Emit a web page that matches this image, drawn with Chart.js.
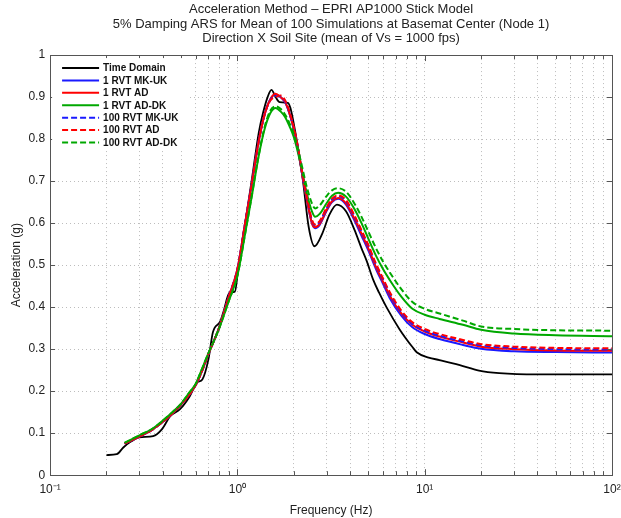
<!DOCTYPE html>
<html>
<head>
<meta charset="utf-8">
<script src="https://cdn.jsdelivr.net/npm/chart.js@4/dist/chart.umd.min.js"></script>
<style>
  html, body { margin: 0; padding: 0; background: #fff; }
  #wrap { width: 621px; height: 518px; }
</style>
</head>
<body>
<div id="wrap"><canvas id="ars" width="621" height="518"></canvas></div>
<script>
// time domain curve (black)
var freqTD = [0.2, 0.227, 0.246, 0.27, 0.3, 0.355, 0.395, 0.437, 0.494, 0.557, 0.61, 0.65, 0.7, 0.74, 0.81, 0.84, 0.91, 0.97, 1.01,
              1.1, 1.2, 1.3, 1.37, 1.45, 1.52, 1.6, 1.68, 1.86, 2.07, 2.24, 2.4, 2.58, 2.85, 3.1, 3.4, 3.8, 4.22, 4.6, 4.9,
              5.3, 5.7, 6.25, 7.35, 8.6, 9.1, 10.5, 12, 15.4, 19.5, 25, 40, 100];
var accTD = [0.048, 0.05, 0.066, 0.08, 0.09, 0.093, 0.109, 0.14, 0.157, 0.188, 0.221, 0.228, 0.275, 0.34, 0.366, 0.387, 0.435, 0.437, 0.49,
             0.6, 0.71, 0.815, 0.862, 0.9, 0.917, 0.9, 0.888, 0.886, 0.8, 0.7, 0.592, 0.545, 0.577, 0.62, 0.644, 0.628, 0.584, 0.54, 0.51,
             0.466, 0.435, 0.4, 0.347, 0.305, 0.292, 0.28, 0.274, 0.262, 0.249, 0.243, 0.24, 0.24];

// RVT curves share one frequency grid
var freqRVT = [0.25, 0.3, 0.35, 0.4, 0.45, 0.5, 0.55, 0.6, 0.65, 0.7, 0.8, 0.9, 1.0, 1.1, 1.2, 1.3, 1.4, 1.5, 1.6, 1.7, 1.8, 1.9,
               2.0, 2.1, 2.2, 2.35, 2.5, 2.6, 2.75, 3.0, 3.2, 3.45, 3.8, 4.2, 4.6, 5.0, 5.5, 6.0, 6.5, 7.5, 8.6, 10, 12, 16, 20, 30, 50, 100];

var acc1MK = [0.075, 0.092, 0.108, 0.127, 0.147, 0.168, 0.19, 0.215, 0.25, 0.288, 0.352, 0.425, 0.49, 0.6, 0.7, 0.795, 0.86, 0.895, 0.906, 0.9, 0.887, 0.86,
              0.824, 0.78, 0.725, 0.655, 0.6, 0.588, 0.596, 0.63, 0.65, 0.658, 0.644, 0.608, 0.57, 0.535, 0.49, 0.455, 0.422, 0.38, 0.352, 0.336, 0.324, 0.31, 0.301, 0.295, 0.293, 0.292];
var acc1AD = [0.075, 0.092, 0.108, 0.127, 0.147, 0.168, 0.19, 0.215, 0.25, 0.288, 0.352, 0.425, 0.49, 0.6, 0.7, 0.795, 0.86, 0.895, 0.908, 0.9, 0.888, 0.86,
              0.825, 0.78, 0.725, 0.655, 0.6, 0.59, 0.598, 0.632, 0.652, 0.66, 0.647, 0.612, 0.575, 0.54, 0.495, 0.46, 0.428, 0.385, 0.358, 0.342, 0.33, 0.316, 0.306, 0.3, 0.297, 0.296];
var acc1ADDK = [0.077, 0.095, 0.11, 0.13, 0.15, 0.17, 0.195, 0.218, 0.255, 0.29, 0.35, 0.415, 0.475, 0.575, 0.67, 0.76, 0.825, 0.862, 0.874, 0.866, 0.852, 0.83,
                0.805, 0.77, 0.73, 0.67, 0.628, 0.615, 0.622, 0.648, 0.665, 0.672, 0.663, 0.635, 0.6, 0.563, 0.522, 0.49, 0.465, 0.425, 0.396, 0.382, 0.372, 0.358, 0.346, 0.337, 0.333, 0.331];
var acc100MK = [0.075, 0.092, 0.108, 0.127, 0.147, 0.168, 0.19, 0.215, 0.25, 0.288, 0.352, 0.425, 0.49, 0.6, 0.7, 0.795, 0.86, 0.893, 0.902, 0.902, 0.89, 0.862,
                0.826, 0.782, 0.728, 0.66, 0.606, 0.595, 0.603, 0.636, 0.656, 0.664, 0.652, 0.617, 0.58, 0.545, 0.5, 0.465, 0.432, 0.388, 0.36, 0.344, 0.332, 0.318, 0.309, 0.303, 0.3, 0.299];
var acc100AD = [0.075, 0.092, 0.108, 0.127, 0.147, 0.168, 0.19, 0.215, 0.25, 0.288, 0.352, 0.425, 0.49, 0.6, 0.7, 0.795, 0.86, 0.892, 0.9, 0.904, 0.892, 0.864,
                0.828, 0.784, 0.73, 0.662, 0.608, 0.597, 0.605, 0.638, 0.658, 0.666, 0.655, 0.62, 0.583, 0.548, 0.503, 0.468, 0.436, 0.392, 0.364, 0.348, 0.336, 0.322, 0.312, 0.306, 0.303, 0.302];
var acc100ADDK = [0.077, 0.095, 0.11, 0.13, 0.15, 0.17, 0.195, 0.218, 0.255, 0.29, 0.35, 0.415, 0.475, 0.575, 0.672, 0.762, 0.83, 0.868, 0.878, 0.872, 0.858, 0.837,
                  0.812, 0.778, 0.74, 0.685, 0.647, 0.635, 0.642, 0.665, 0.678, 0.683, 0.675, 0.648, 0.615, 0.58, 0.54, 0.508, 0.483, 0.443, 0.412, 0.396, 0.385, 0.368, 0.354, 0.348, 0.345, 0.344];

var seriesNames = ['Time Domain', '1 RVT MK-UK', '1 RVT AD', '1 RVT AD-DK', '100 RVT MK-UK', '100 RVT AD', '100 RVT AD-DK'];
var seriesColors = ['#000000', '#1a1aff', '#ff0000', '#00a800', '#1a1aff', '#ff0000', '#00a800'];

var xDecades = [0.1, 1, 10, 100];
var xTickLabels = ['10\u207B\u00B9', '10\u2070', '10\u00B9', '10\u00B2'];
var yTicks = [0, 0.1, 0.2, 0.3, 0.4, 0.5, 0.6, 0.7, 0.8, 0.9, 1];

var titleLines = ['Acceleration Method \u2013 EPRI AP1000 Stick Model',
                  '5% Damping ARS for Mean of 100 Simulations at Basemat Center (Node 1)',
                  'Direction X Soil Site (mean of Vs = 1000 fps)'];

var FONT = "'Liberation Sans', Arial, sans-serif";

function toPoints(xs, ys) {
    var pts = [];
    for (var i = 0; i < xs.length; i++) pts.push({x: xs[i], y: ys[i]});
    return pts;
}

// minor + major ticks of the log axis (1..9 per decade)
var xTickValues = [];
xDecades.forEach(function(d, i) {
    if (i == xDecades.length - 1) { xTickValues.push(d); return; }
    for (var m = 1; m <= 9; m++) xTickValues.push(+(d * m).toPrecision(3));
});

var allX = [freqTD, freqRVT, freqRVT, freqRVT, freqRVT, freqRVT, freqRVT];
var allY = [accTD, acc1MK, acc1AD, acc1ADDK, acc100MK, acc100AD, acc100ADDK];

var datasets = [];
for (var i = 0; i < seriesNames.length; i++) {
    datasets.push({
        label: seriesNames[i],
        data: toPoints(allX[i], allY[i]),
        borderColor: seriesColors[i],
        borderWidth: i == 0 ? 1.8 : 2,
        borderDash: i >= 4 ? [6, 3] : [],
        pointRadius: 0,
        fill: false,
        cubicInterpolationMode: 'monotone',
        order: seriesNames.length - i      // later series drawn on top, like matlab
    });
}

// box round the axes + inward tick marks
var boxPlugin = {
    id: 'box',
    afterDatasetsDraw: function(chart) {
        var ctx = chart.ctx, a = chart.chartArea;
        var xs = chart.scales.x, ys = chart.scales.y;
        ctx.save();
        ctx.strokeStyle = '#555';
        ctx.lineWidth = 1;
        ctx.beginPath();
        xTickValues.forEach(function(v) {
            var px = Math.round(xs.getPixelForValue(v)) + 0.5;
            var len = xDecades.indexOf(v) >= 0 ? 6 : 4;
            ctx.moveTo(px, a.bottom); ctx.lineTo(px, a.bottom - len);
            ctx.moveTo(px, a.top); ctx.lineTo(px, a.top + len);
        });
        yTicks.forEach(function(v) {
            var py = Math.round(ys.getPixelForValue(v)) + 0.5;
            ctx.moveTo(a.left, py); ctx.lineTo(a.left + 5, py);
            ctx.moveTo(a.right, py); ctx.lineTo(a.right - 5, py);
        });
        ctx.stroke();
        ctx.strokeRect(Math.round(a.left) + 0.5, Math.round(a.top) + 0.5, Math.round(a.right - a.left), Math.round(a.bottom - a.top));
        ctx.restore();
    }
};

// matlab style legend in the upper left corner
var legendPlugin = {
    id: 'cornerLegend',
    afterDraw: function(chart) {
        var ctx = chart.ctx, a = chart.chartArea;
        var rowH = 12.4, x0 = a.left + 12, lineLen = 37, y0 = a.top + 13;
        ctx.save();
        ctx.font = 'bold 10px ' + FONT;
        var maxW = 0;
        chart.data.datasets.forEach(function(ds) { maxW = Math.max(maxW, ctx.measureText(ds.label).width); });
        ctx.fillStyle = '#fff';
        ctx.fillRect(a.left + 2, a.top + 3, x0 + lineLen + 6 + maxW + 6 - a.left, rowH * 7 + 6);
        chart.data.datasets.forEach(function(ds, i) {
            var y = y0 + i * rowH;
            ctx.strokeStyle = ds.borderColor;
            ctx.lineWidth = 2;
            ctx.setLineDash(ds.borderDash);
            ctx.beginPath();
            ctx.moveTo(x0, y); ctx.lineTo(x0 + lineLen, y);
            ctx.stroke();
            ctx.setLineDash([]);
            ctx.fillStyle = '#111';
            ctx.textBaseline = 'middle';
            ctx.fillText(ds.label, x0 + lineLen + 4, y + 0.5);
        });
        ctx.restore();
    }
};

new Chart(document.getElementById('ars'), {
    type: 'line',
    data: { datasets: datasets },
    options: {
        responsive: false,
        animation: false,
        layout: { padding: { left: 9, right: 9, top: 0, bottom: 0 } },
        plugins: {
            legend: { display: false },
            tooltip: { enabled: false },
            title: {
                display: true,
                fullSize: false,     // centre over the axes, not the canvas
                text: titleLines,
                color: '#222',
                font: { family: FONT, size: 13, weight: 'normal', lineHeight: 1.13 },
                padding: { top: 2, bottom: 9 }
            }
        },
        scales: {
            x: {
                type: 'logarithmic',
                min: 0.1,
                max: 100,
                afterBuildTicks: function(scale) {
                    scale.ticks = xTickValues.map(function(v) { return {value: v}; });
                },
                // let the last decade label run off the edge, as in the original
                afterFit: function(scale) { scale.paddingRight = 0; },
                ticks: {
                    autoSkip: false,
                    maxRotation: 0,
                    padding: 7,
                    color: '#222',
                    font: { family: FONT, size: 12 },
                    callback: function(v) {
                        var k = xDecades.indexOf(+(+v).toPrecision(3));
                        return k >= 0 ? xTickLabels[k] : '';
                    }
                },
                grid: { color: '#bdbdbd', lineWidth: 1, drawTicks: false },
                border: { display: false, dash: [1, 3] },
                title: {
                    display: true,
                    text: 'Frequency (Hz)',
                    color: '#222',
                    font: { family: FONT, size: 12 },
                    padding: { top: 0, bottom: 0 }
                }
            },
            y: {
                min: 0,
                max: 1,
                afterBuildTicks: function(scale) {
                    scale.ticks = yTicks.map(function(v) { return {value: v}; });
                },
                ticks: {
                    padding: 5,
                    color: '#222',
                    font: { family: FONT, size: 12 },
                    callback: function(v) { return String(+(+v).toFixed(1)); }
                },
                grid: { color: '#bdbdbd', lineWidth: 1, drawTicks: false },
                border: { display: false, dash: [1, 3] },
                title: {
                    display: true,
                    text: 'Acceleration (g)',
                    color: '#222',
                    font: { family: FONT, size: 12 },
                    padding: { top: 0, bottom: 0 }
                }
            }
        }
    },
    plugins: [boxPlugin, legendPlugin]
});
</script>
</body>
</html>
